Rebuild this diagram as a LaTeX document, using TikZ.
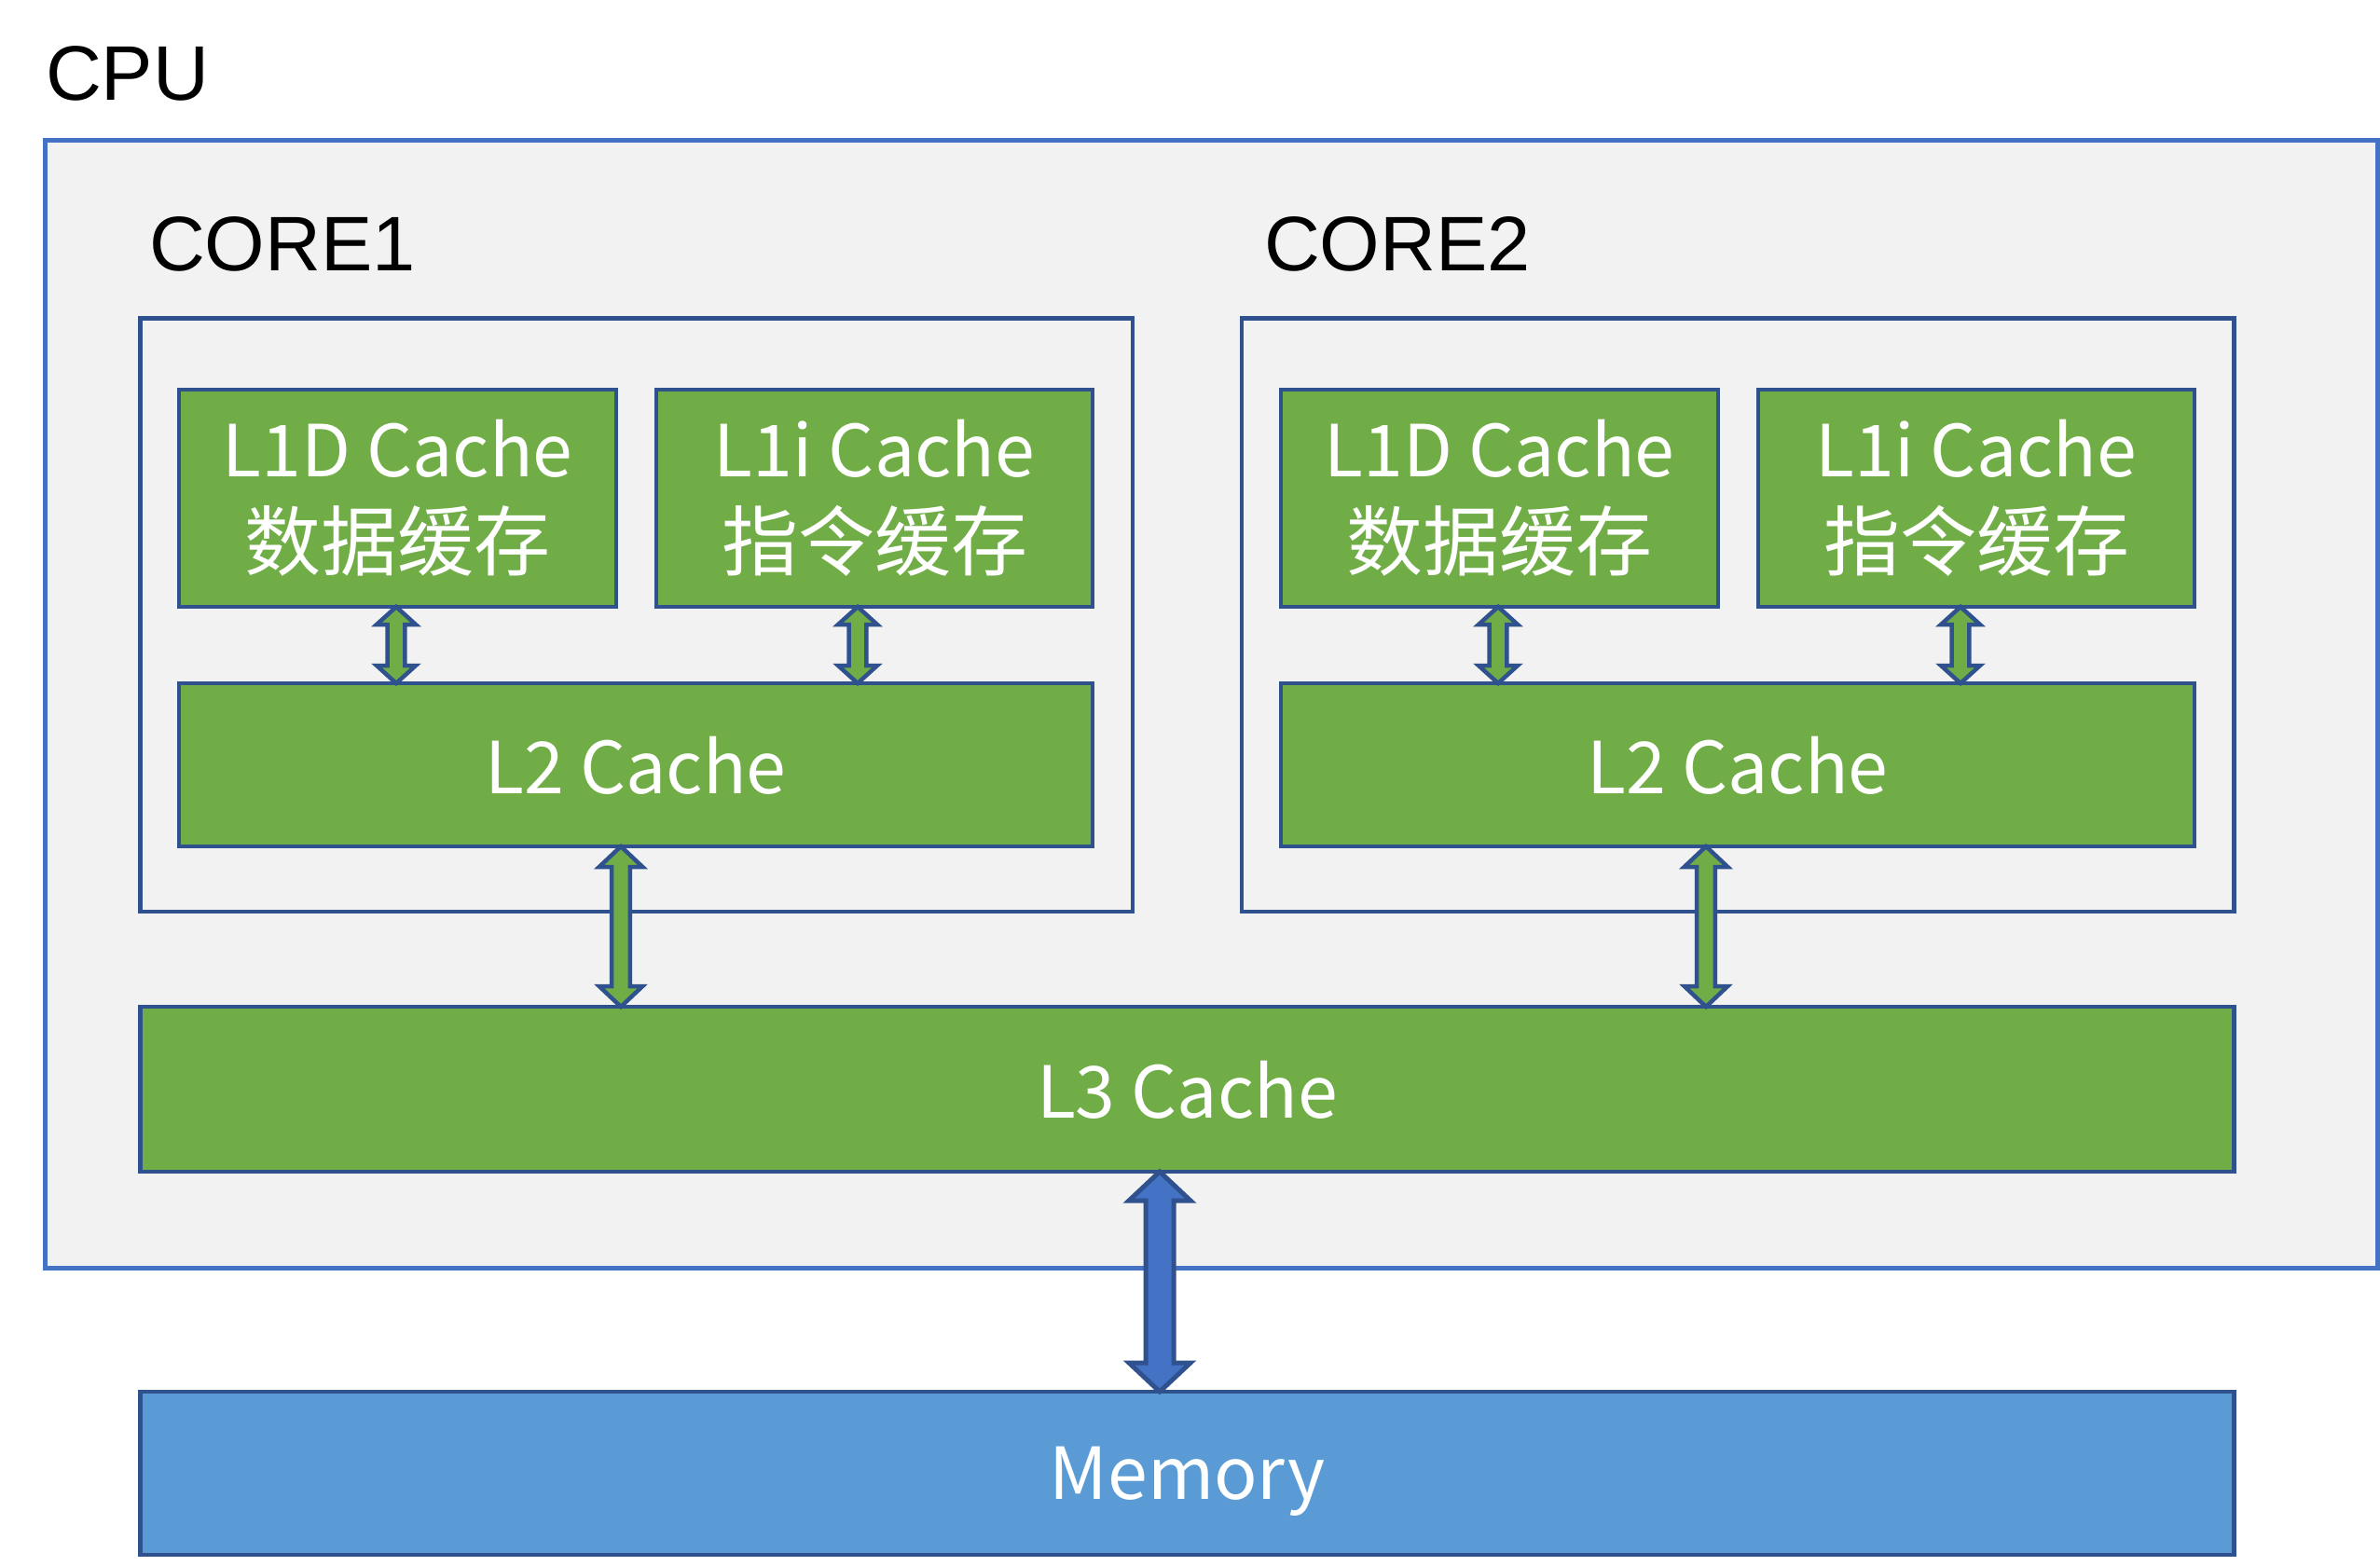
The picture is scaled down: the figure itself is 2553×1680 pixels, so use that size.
\documentclass[tikz,border=0pt]{standalone}
\usepackage{fontspec}
\setmainfont{Liberation Sans}
\newfontfamily\cjk{Noto Sans CJK SC}
\usetikzlibrary{calc}
\definecolor{cpuborder}{HTML}{4472C4}
\definecolor{darkborder}{HTML}{2F528F}
\definecolor{cpufill}{HTML}{F2F2F2}
\definecolor{cachegreen}{HTML}{70AD47}
\definecolor{memblue}{HTML}{5B9BD5}
\definecolor{arrowblue}{HTML}{4472C4}
\newcommand\latinpart{\fontsize{77bp}{100bp}\selectfont}
\newcommand\hanpart{\fontsize{82bp}{100bp}\selectfont}
% #1 top tip, #2 bottom tip, #3 half head width, #4 half shaft width, #5 head length, #6 style
\newcommand\blockarrow[6]{%
  \draw[#6] (#1) -- ++(#3,#5) -- ++({-(#3-#4)},0) -- ($(#2)+(#4,-#5)$) -- ++({#3-#4},0)
    -- (#2) -- ++({-#3},{-#5}) -- ++({#3-#4},0) -- ($(#1)+(-#4,#5)$) -- ++({-(#3-#4)},0) -- cycle;}
\begin{document}
\begin{tikzpicture}[x=1bp,y=-1bp,
  cpubox/.style={draw=cpuborder,line width=5bp,fill=cpufill,rectangle,inner sep=0,outer sep=0},
  corebox/.style={draw=darkborder,line width=4.5bp,fill=cpufill,rectangle,inner sep=0,outer sep=0},
  cachebox/.style={draw=darkborder,line width=4.5bp,fill=cachegreen,rectangle,inner sep=0,outer sep=0,
    text=white,align=center,font=\cjk\latinpart},
  onelinebox/.style={cachebox,text depth=0bp},
  membox/.style={onelinebox,fill=memblue},
  lbl/.style={inner sep=0,outer sep=0,font=\fontsize{83bp}{100bp}\selectfont,anchor=base west},
  greenarrow/.style={draw=darkborder,fill=cachegreen,line width=4.5bp,line join=miter},
  bluearrow/.style={draw=darkborder,fill=arrowblue,line width=5bp,line join=miter}]
\useasboundingbox (0,0) rectangle (2553,1680);
\fill[white] (0,0) rectangle (2553,1680);

\node[lbl] (cpulbl) at (49,107) {CPU};
\node[cpubox,minimum width=2502bp,minimum height=1210bp] (cpu) at (1299.5,755.5) {};

\node[lbl] (c1lbl) at (160,290) {CORE1};
\node[lbl] (c2lbl) at (1356,290) {CORE2};
\node[corebox,minimum width=1064.5bp,minimum height=636.5bp] (core1) at (682.75,659.75) {};
\node[corebox,minimum width=1064.5bp,minimum height=636.5bp] (core2) at (1864.25,659.75) {};

\node[cachebox,minimum width=469bp,minimum height=233bp] (l1d1) at (426.5,534.5) {L1D Cache\\\hanpart 数据缓存};
\node[cachebox,minimum width=468bp,minimum height=233bp] (l1i1) at (938,534.5) {L1i Cache\\\hanpart 指令缓存};
\node[onelinebox,minimum width=980bp,minimum height=175bp] (l21) at (682,820.5) {L2 Cache};
\node[cachebox,minimum width=469bp,minimum height=233bp] (l1d2) at (1608.5,534.5) {L1D Cache\\\hanpart 数据缓存};
\node[cachebox,minimum width=468bp,minimum height=233bp] (l1i2) at (2120,534.5) {L1i Cache\\\hanpart 指令缓存};
\node[onelinebox,minimum width=980bp,minimum height=175bp] (l22) at (1864,820.5) {L2 Cache};
\node[onelinebox,minimum width=2246bp,minimum height=177bp] (l3) at (1273.5,1168.5) {L3 Cache};
\node[membox,minimum width=2246bp,minimum height=175bp] (mem) at (1273.5,1580.5) {Memory};

% connector end points
\coordinate (a1t) at (l1d1.south -| 425,0);  \coordinate (a1b) at (l21.north -| 425,0);
\coordinate (a2t) at (l1i1.south -| 920,0);  \coordinate (a2b) at (l21.north -| 920,0);
\coordinate (a3t) at (l1d2.south -| 1607,0); \coordinate (a3b) at (l22.north -| 1607,0);
\coordinate (a4t) at (l1i2.south -| 2103,0); \coordinate (a4b) at (l22.north -| 2103,0);
\coordinate (a5t) at (l21.south -| 666,0);   \coordinate (a5b) at (l3.north -| 666,0);
\coordinate (a6t) at (l22.south -| 1830,0);  \coordinate (a6b) at (l3.north -| 1830,0);
\coordinate (a7t) at (l3.south -| 1244,0);   \coordinate (a7b) at (mem.north -| 1244,0);

\blockarrow{a1t}{a1b}{21}{9.3}{19}{greenarrow}
\blockarrow{a2t}{a2b}{21}{9.3}{19}{greenarrow}
\blockarrow{a3t}{a3b}{21}{9.3}{19}{greenarrow}
\blockarrow{a4t}{a4b}{21}{9.3}{19}{greenarrow}
\blockarrow{a5t}{a5b}{23.3}{9.8}{22}{greenarrow}
\blockarrow{a6t}{a6b}{23.3}{9.8}{22}{greenarrow}
\blockarrow{a7t}{a7b}{33}{15}{31}{bluearrow}
\end{tikzpicture}
\end{document}
